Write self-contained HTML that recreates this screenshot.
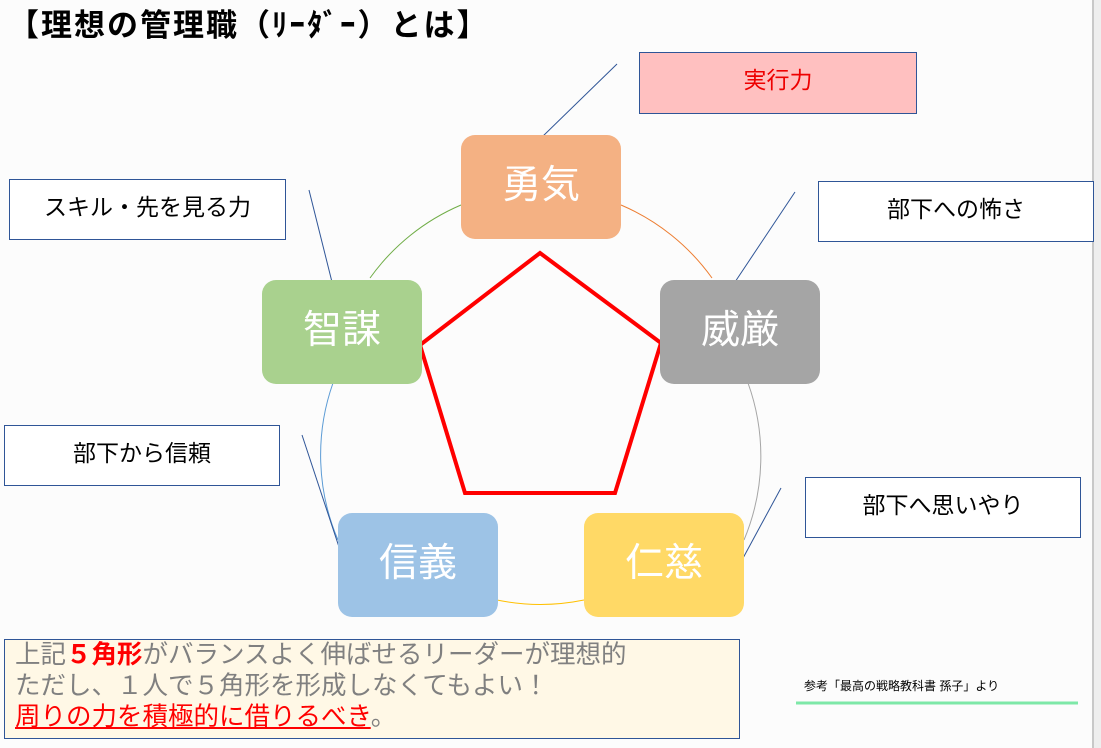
<!DOCTYPE html>
<html><head><meta charset="utf-8"><style>
body{margin:0;width:1101px;height:748px;background:#eee;position:relative;overflow:hidden;font-family:"Liberation Sans","Noto Sans CJK JP",sans-serif}
.pg{position:absolute;left:0;top:0;width:1092px;height:748px;background:#fcfcfc;border-right:2px solid #c8c8c8}
.b{position:absolute;border:1.3px solid #2f5597;background:#fff;box-sizing:border-box;display:flex;align-items:center;justify-content:center;font-size:23px;color:#000;padding-bottom:10px}
.n{position:absolute;width:160px;height:104px;border-radius:14px;display:flex;align-items:center;justify-content:center;color:#fff;font-size:39px;box-sizing:border-box;padding-bottom:10px}
</style></head><body>
<div class="pg"></div>
<div style="position:absolute;left:8px;top:0px;font-size:31px;font-weight:bold;letter-spacing:2px">【理想の管理職（ﾘｰﾀﾞｰ）とは】</div>
<svg width="1101" height="748" style="position:absolute;left:0;top:0">
<g fill="none" stroke-width="1">
<path d="M 370 278 A 216 216 0 0 1 461 205" stroke="#70ad47"/>
<path d="M 621 205 A 216 216 0 0 1 712 278" stroke="#ed7d31"/>
<path d="M 748 383 A 216 216 0 0 1 744 540" stroke="#a5a5a5"/>
<path d="M 584 600 A 216 216 0 0 1 497 600" stroke="#ffc000"/>
<path d="M 338 540 A 216 216 0 0 1 333 383" stroke="#5b9bd5"/>
</g>
<g stroke="#2f5597" stroke-width="1">
<line x1="617" y1="64" x2="541" y2="138"/>
<line x1="795" y1="192" x2="735" y2="282"/>
<line x1="309" y1="190" x2="332" y2="282"/>
<line x1="302" y1="435" x2="340" y2="550"/>
<line x1="781" y1="488" x2="742" y2="560"/>
</g>
<polygon points="540,253 661,343 615,493 465,493 420,345" fill="none" stroke="#f00" stroke-width="4"/>
<line x1="796" y1="703" x2="1078" y2="703" stroke="#7ee8a8" stroke-width="3"/>
</svg>
<div class="b" style="left:639px;top:52px;width:278px;height:62px;background:#ffc0c0;color:#e00">実行力</div>
<div class="b" style="left:9px;top:179px;width:277px;height:61px">スキル・先を見る力</div>
<div class="b" style="left:818px;top:181px;width:276px;height:61px">部下への怖さ</div>
<div class="b" style="left:4px;top:425px;width:276px;height:61px">部下から信頼</div>
<div class="b" style="left:805px;top:477px;width:276px;height:61px">部下へ思いやり</div>
<div class="n" style="left:461px;top:135px;background:#f4b183">勇気</div>
<div class="n" style="left:262px;top:280px;background:#a9d18e">智謀</div>
<div class="n" style="left:660px;top:280px;background:#a5a5a5">威厳</div>
<div class="n" style="left:338px;top:513px;background:#9dc3e6">信義</div>
<div class="n" style="left:584px;top:513px;background:#ffd966">仁慈</div>
<div style="position:absolute;left:4px;top:639px;width:736px;height:100px;box-sizing:border-box;border:1.3px solid #2f5597;background:#fff8e6;padding:0 0 0 10px;font-size:25.5px;line-height:31px;color:#808080">
<div>上記<b style="color:#f00">５角形</b>がバランスよく伸ばせるリーダーが理想的</div>
<div>ただし、１人で５角形を形成しなくてもよい！</div>
<div><span style="color:#f00;text-decoration:underline">周りの力を積極的に借りるべき</span>。</div>
</div>
<div style="position:absolute;left:804px;top:677px;font-size:12px;color:#000">参考「最高の戦略教科書 孫子」より</div>
</body></html>
